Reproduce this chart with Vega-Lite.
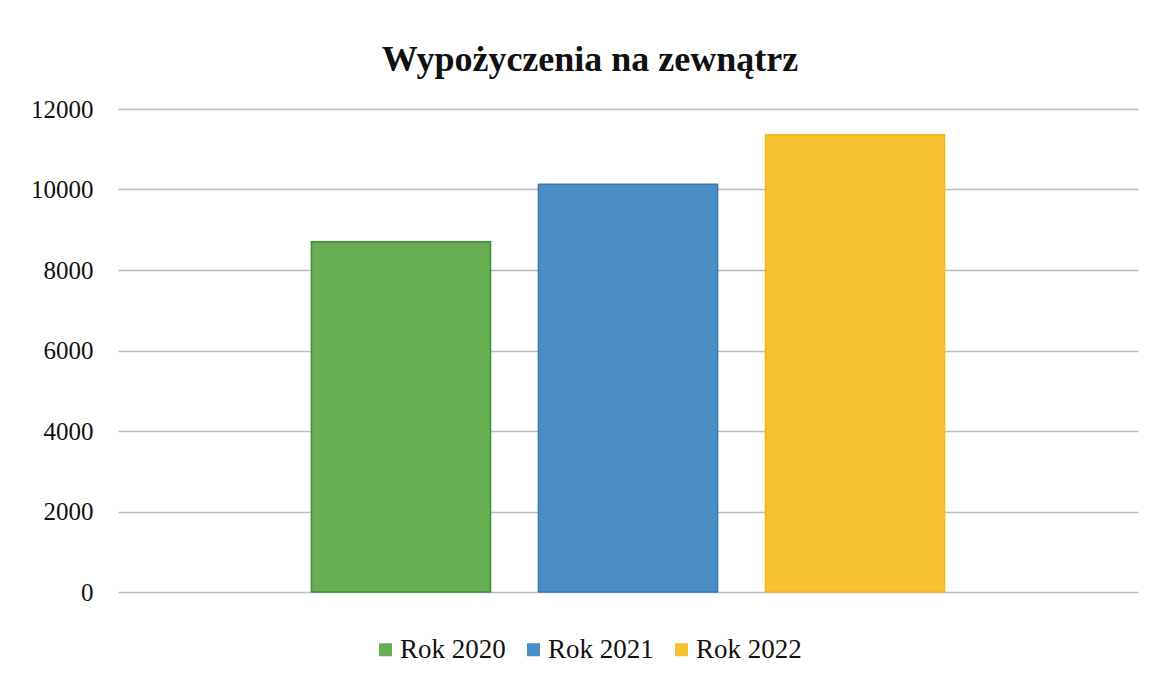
{
  "$schema": "https://vega.github.io/schema/vega-lite/v6.json",
  "autosize": "none",
  "width": 1020,
  "height": 483,
  "padding": {"left": 118, "top": 109, "right": 17, "bottom": 85},
  "background": "white",
  "config": {
    "view": {"stroke": null},
    "font": "Liberation Serif"
  },
  "title": {
    "text": "Wypożyczenia na zewnątrz",
    "font": "Liberation Serif",
    "fontSize": 36,
    "fontWeight": "bold",
    "color": "#111111",
    "anchor": "middle",
    "dx": -38,
    "offset": 18
  },
  "data": {
    "values": [
      {"rok": "Rok 2020", "wartosc": 8700},
      {"rok": "Rok 2021", "wartosc": 10130},
      {"rok": "Rok 2022", "wartosc": 11360}
    ]
  },
  "mark": {"type": "bar", "strokeWidth": 1.5},
  "encoding": {
    "x": {
      "field": "rok",
      "type": "nominal",
      "sort": null,
      "scale": {"paddingInner": 0.211, "paddingOuter": 0.852},
      "axis": null
    },
    "y": {
      "field": "wartosc",
      "type": "quantitative",
      "scale": {"domain": [0, 12000]},
      "axis": {
        "title": null,
        "values": [0, 2000, 4000, 6000, 8000, 10000, 12000],
        "format": "d",
        "domain": false,
        "ticks": false,
        "labelPadding": 25,
        "labelFont": "Liberation Serif",
        "labelFontSize": 25,
        "labelColor": "#111111",
        "gridColor": "#b8bcc4",
        "gridWidth": 1.3
      }
    },
    "fill": {
      "field": "rok",
      "type": "nominal",
      "scale": {"domain": ["Rok 2020", "Rok 2021", "Rok 2022"], "range": ["#67ad51", "#4b8ec6", "#f6c12e"]},
      "legend": {
        "title": null,
        "orient": "none",
        "direction": "horizontal",
        "legendX": 254,
        "legendY": 527,
        "symbolType": "square",
        "symbolSize": 170,
        "symbolStrokeWidth": 0,
        "labelFont": "Liberation Serif",
        "labelFontSize": 27,
        "labelColor": "#111111",
        "columnPadding": 14,
        "labelOffset": 1
      }
    },
    "stroke": {
      "field": "rok",
      "type": "nominal",
      "scale": {"domain": ["Rok 2020", "Rok 2021", "Rok 2022"], "range": ["#3f8f34", "#3b78ae", "#efb81f"]},
      "legend": null
    }
  }
}
